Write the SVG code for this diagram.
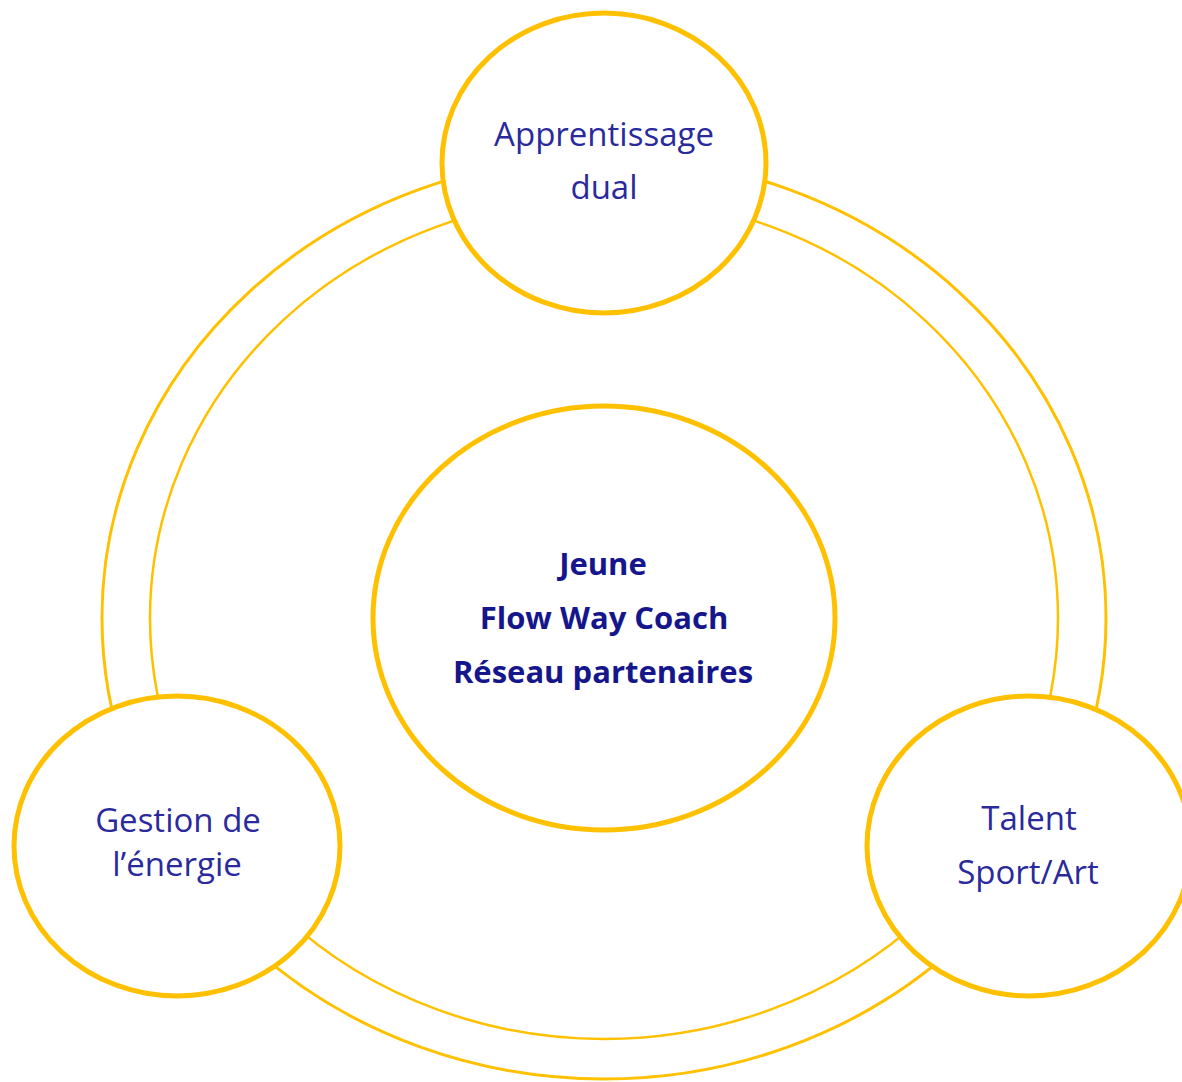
<svg xmlns="http://www.w3.org/2000/svg" width="1182" height="1082" viewBox="0 0 1182 1082">
<style>
.ring{fill:none;stroke:#FFC000}
.node{fill:#FFFFFF;stroke:#FFC000;stroke-width:5}
.t{font-family:"Open Sans","Liberation Sans",sans-serif;font-size:33px;fill:#2A2A9C;text-anchor:middle}
.b{font-family:"Open Sans","Liberation Sans",sans-serif;font-size:31px;font-weight:bold;fill:#16168C;text-anchor:middle}
</style>
<rect width="1182" height="1082" fill="#FFFFFF"/>
<g id="connectors">
<ellipse class="ring" cx="604" cy="618" rx="502" ry="461" stroke-width="3"/>
<ellipse class="ring" cx="604" cy="618" rx="454" ry="421" stroke-width="2.5"/>
</g>
<g id="center">
<ellipse class="node" cx="604" cy="618" rx="231" ry="212"/>
<text class="b" x="603" y="575">Jeune</text>
<text class="b" x="604" y="629">Flow Way Coach</text>
<text class="b" x="603" y="683">Réseau partenaires</text>
</g>
<g id="apprentissage">
<ellipse class="node" cx="604" cy="163" rx="162" ry="150"/>
<text class="t" x="604" y="146">Apprentissage</text>
<text class="t" x="604" y="199">dual</text>
</g>
<g id="energie">
<ellipse class="node" cx="177" cy="846" rx="163" ry="150"/>
<text class="t" x="178" y="832">Gestion de</text>
<text class="t" x="177" y="876">l’énergie</text>
</g>
<g id="talent">
<ellipse class="node" cx="1029" cy="846" rx="162" ry="150"/>
<text class="t" x="1029" y="830">Talent</text>
<text class="t" x="1028" y="884">Sport/Art</text>
</g>
</svg>
